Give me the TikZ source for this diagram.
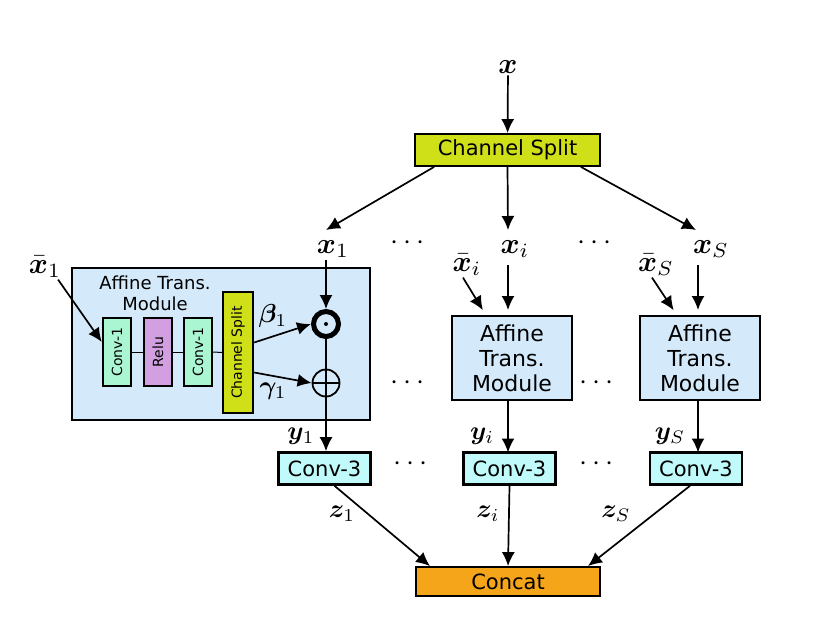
\documentclass[tikz,border=0pt]{standalone}
\usepackage{amsmath,bm}
\usepackage{fontspec}
\setmainfont{DejaVu Sans}
\usetikzlibrary{arrows.meta, positioning, calc}
\definecolor{splitF}{HTML}{CFE018}
\definecolor{atmF}{HTML}{D4EAFB}
\definecolor{convOneF}{HTML}{AAF5D2}
\definecolor{reluF}{HTML}{D2A0E1}
\definecolor{convThreeF}{HTML}{C0FAFA}
\definecolor{concatF}{HTML}{F5A519}
\tikzset{
  >={Latex[length=14pt,width=13pt]},
  blk/.style={draw, line width=1.8pt, inner sep=0pt, align=center,
    font=\fontsize{21}{25}\selectfont},
  split/.style ={blk, fill=splitF},
  atm/.style   ={blk, fill=atmF, line width=1.5pt},
  convone/.style={blk, fill=convOneF, line width=2.4pt, minimum width=28pt,
    minimum height=68pt, font=\fontsize{14}{16}\selectfont},
  relu/.style  ={convone, fill=reluF},
  convthree/.style={blk, fill=convThreeF, line width=2.6pt, minimum width=92pt,
    minimum height=32pt},
  concat/.style={blk, fill=concatF, minimum width=184pt, minimum height=29pt},
  mlabel/.style={inner sep=0.5pt, font=\normalsize, scale=2.9},
  slabel/.style={inner sep=0.5pt, font=\normalsize, scale=2.6},
  flow/.style={->, line width=1.7pt},
  link/.style={line width=1pt},
}

\begin{document}
\begin{tikzpicture}[x=1pt, y=-1pt]
  \useasboundingbox (0,0) rectangle (816,618);

  % ---- Input and channel split ----------------------------------------------
  \node[mlabel] (x)     at (508,67)  {$\bm{x}$};
  \node[split, minimum width=185pt, minimum height=32pt] (split) at (507.5,150) {Channel Split};
  \draw[flow] (x) -- (split);

  \node[mlabel] (x1) at (333,249) {$\bm{x}_1$};
  \node[mlabel] (xi) at (515,249) {$\bm{x}_i$};
  \node[mlabel] (xS) at (711,249) {$\bm{x}_S$};
  \node[mlabel] (dotsA) at (410,243) {$\cdots$};
  \node[mlabel] (dotsB) at (597,243) {$\cdots$};

  \draw[flow] ([xshift=20pt]split.south west) -- (326,230);
  \draw[flow] (split.south) -- (508,230);
  \draw[flow] ([xshift=-20pt]split.south east) -- (696,230);

  % ---- Branch 1: expanded affine transformation module ---------------------
  \node[atm, minimum width=298pt, minimum height=152pt] (atm1) at (221,344) {};
  \node[font=\fontsize{18}{21}\selectfont, align=center, inner sep=0pt] (atmtxt) at (155,293)
    {Affine Trans.\\Module};
  \node[convone] (conv1a) at (117,352) {\rotatebox{90}{Conv-1}};
  \node[relu]    (relu)   at (158,352) {\rotatebox{90}{Relu}};
  \node[convone] (conv1b) at (198,352) {\rotatebox{90}{Conv-1}};
  \node[split, line width=2.4pt, minimum width=30pt, minimum height=121pt,
    font=\fontsize{14}{16}\selectfont] (csplit) at (238,352.5) {\rotatebox{90}{Channel Split}};

  \draw[link] (conv1a) -- (relu);
  \draw[link] (relu) -- (conv1b);
  \draw[link] (conv1b) -- (csplit);

  \node[mlabel] (xb1) at (45,267) {$\bar{\bm{x}}_1$};
  \draw[flow] ([xshift=-5pt]xb1.south east) -- ([yshift=10pt]conv1a.west);

  % multiply and add nodes
  \node[circle, draw, line width=5pt, minimum size=25pt, inner sep=0pt] (odot) at (326,324) {};
  \fill (odot) circle (2pt);
  \node[circle, draw, line width=1.8pt, minimum size=27pt, inner sep=0pt] (oplus) at (326,383) {};
  \draw[line width=1.8pt] (oplus.north) -- (oplus.south) (oplus.west) -- (oplus.east);

  \node[slabel] (beta1)  at (273,316) {$\bm{\beta}_1$};
  \node[slabel] (gamma1) at (273,391) {$\bm{\gamma}_1$};
  \draw[flow] ([yshift=10pt]csplit.east) -- (odot.west);
  \draw[flow] ([yshift=-20pt]csplit.east) -- (oplus.west);

  \draw[flow] (odot |- x1.south) -- (odot.north);
  \draw[line width=1.7pt] (odot.south) -- (oplus.north);

  % ---- Branches i and S ----------------------------------------------------
  \node[atm, minimum width=120pt, minimum height=84pt, font=\fontsize{22}{25}\selectfont]
    (atmi) at (512,358) {Affine\\Trans.\\Module};
  \node[atm, minimum width=120pt, minimum height=84pt, font=\fontsize{22}{25}\selectfont]
    (atmS) at (700,358) {Affine\\Trans.\\Module};
  \node[mlabel] (xbi) at (467,265) {$\bar{\bm{x}}_i$};
  \node[mlabel] (xbS) at (656,265) {$\bar{\bm{x}}_S$};
  \node[mlabel] (dotsC) at (410,383) {$\cdots$};
  \node[mlabel] (dotsD) at (599,383) {$\cdots$};

  \draw[flow, shorten >=6pt] (508,265) -- (508,316);
  \draw[flow, shorten >=6pt] ([xshift=-4pt]xbi.south) -- ([xshift=-26pt]atmi.north);
  \draw[flow, shorten >=6pt] (698,265) -- (698,316);
  \draw[flow, shorten >=6pt] ([xshift=-4pt]xbS.south) -- ([xshift=-23pt]atmS.north);

  % ---- Conv-3 row and concatenation ----------------------------------------
  \node[convthree] (c3a) at (324.5,468.5) {Conv-3};
  \node[convthree] (c3i) at (509.5,468.5) {Conv-3};
  \node[convthree] (c3S) at (696,468.5)   {Conv-3};
  \node[mlabel] (dotsE) at (413,464) {$\cdots$};
  \node[mlabel] (dotsF) at (599,464) {$\cdots$};

  \node[slabel] (y1) at (301,436) {$\bm{y}_1$};
  \node[slabel] (yi) at (482,436) {$\bm{y}_i$};
  \node[slabel] (yS) at (670,436) {$\bm{y}_S$};
  \draw[flow] (oplus.south) -- (oplus |- c3a.north);
  \draw[flow] (508,400) -- (508,452.5);
  \draw[flow] (698,400) -- (698,452.5);

  \node[concat] (concat) at (508,581.5) {Concat};
  \node[slabel] (z1) at (342,514) {$\bm{z}_1$};
  \node[slabel] (zi) at (488,514) {$\bm{z}_i$};
  \node[slabel] (zS) at (616,514) {$\bm{z}_S$};
  \draw[flow] ([xshift=10pt]c3a.south) -- ([xshift=-78pt]concat.north);
  \draw[flow] (c3i.south) -- (concat.north);
  \draw[flow] ([xshift=-6pt]c3S.south) -- ([xshift=80pt]concat.north);

\end{tikzpicture}
\end{document}
